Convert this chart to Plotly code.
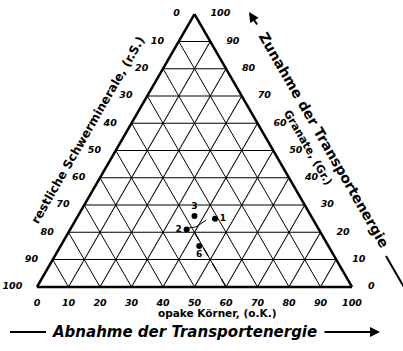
import plotly.graph_objects as go

# tick values every 10 % along each side
ticks = list(range(0, 101, 10))
tick_text = [str(t) for t in ticks]

# numbered samples (Gr. + r.S. + o.K. = 100)
proben = ["1", "2", "3", "6"]
granate = [25, 21, 26, 15]        # Granate (Gr.)
schwer = [31, 42, 37, 41]         # restliche Schwerminerale (r.S.)
opake = [44, 37, 37, 44]          # opake Körner (o.K.)
pos = ["middle right", "middle left", "top center", "bottom center"]

# small arrows from the common start point towards samples 2 and 1
pfeil_gr = [22, 21.6, None, 22, 24.5]
pfeil_rs = [38.5, 41.2, None, 38.5, 34]
pfeil_ok = [39.5, 37.2, None, 39.5, 41.5]

# dashed trend towards zero garnet
trend_gr = [20, 0]
trend_rs = [40, 40]
trend_ok = [40, 60]

W, H = 403, 351
L, R, T, B = 37, 51, 14, 64


def px(x, y):
    # reference pixel -> paper coords
    return (x - L) / (W - L - R), (H - B - y) / (H - T - B)


fig = go.Figure()

fig.add_trace(go.Scatterternary(
    a=trend_gr, b=trend_rs, c=trend_ok, mode="lines",
    line=dict(color="black", width=1.2, dash="dash"),
    hoverinfo="skip"))

fig.add_trace(go.Scatterternary(
    a=pfeil_gr, b=pfeil_rs, c=pfeil_ok, mode="lines",
    line=dict(color="black", width=1),
    hoverinfo="skip"))

fig.add_trace(go.Scatterternary(
    a=granate, b=schwer, c=opake, text=proben, mode="markers+text",
    textposition=pos,
    textfont=dict(family="DejaVu Sans", size=9, color="black", weight="bold"),
    marker=dict(color="black", size=6)))

# tick labels, placed like in the original diagram
tick_font = dict(family="DejaVu Sans", size=9.5, color="black",
                 style="italic", weight="bold")
hidden = dict(color="rgba(0,0,0,0)")
# left side: restliche Schwerminerale
fig.add_trace(go.Scatterternary(
    a=[100 - t for t in ticks], b=ticks, c=[0] * len(ticks), text=tick_text,
    mode="markers+text", textposition="middle left", textfont=tick_font,
    marker=dict(hidden, size=22), cliponaxis=False, hoverinfo="skip"))
# right side: Granate
fig.add_trace(go.Scatterternary(
    a=ticks, b=[0] * len(ticks), c=[100 - t for t in ticks], text=tick_text,
    mode="markers+text", textposition="middle right", textfont=tick_font,
    marker=dict(hidden, size=24), cliponaxis=False, hoverinfo="skip"))
# bottom: opake Körner
fig.add_trace(go.Scatterternary(
    a=[0] * len(ticks), b=[100 - t for t in ticks], c=ticks, text=tick_text,
    mode="markers+text", textposition="bottom center", textfont=tick_font,
    marker=dict(hidden, size=17), cliponaxis=False, hoverinfo="skip"))

axis_common = dict(
    tickvals=ticks, linecolor="black", linewidth=2.5,
    gridcolor="black", gridwidth=1.4, showgrid=True,
    ticks="", showticklabels=False, showline=True,
    title=dict(text=""))

fig.update_layout(
    width=W, height=H,
    margin=dict(l=L, r=R, t=T, b=B),
    paper_bgcolor="white",
    showlegend=False,
    ternary=dict(
        sum=100,
        bgcolor="white",
        aaxis=axis_common,
        baxis=axis_common,
        caxis=axis_common,
    ),
)

bold = dict(family="DejaVu Sans", color="black", weight="bold")
ann = []

x, y = px(88, 130)
ann.append(dict(x=x, y=y, text="restliche Schwerminerale, (r.S.)", textangle=-60,
                font=dict(bold, size=12)))
x, y = px(308, 147)
ann.append(dict(x=x, y=y, text="Granate, (Gr.)", textangle=60,
                font=dict(bold, size=11)))
x, y = px(324, 140)
ann.append(dict(x=x, y=y, text="Zunahme der Transportenergie", textangle=60,
                font=dict(bold, size=14)))
x, y = px(217, 313)
ann.append(dict(x=x, y=y, text="opake Körner, (o.K.)",
                font=dict(bold, size=10.5)))
x, y = px(184, 332)
ann.append(dict(x=x, y=y, text="Abnahme der Transportenergie",
                font=dict(bold, size=15, style="italic")))

# arrows (tail offsets in pixels)
x, y = px(380, 332)
ann.append(dict(x=x, y=y, ax=-57, ay=0, text="", showarrow=True,
                arrowhead=2, arrowwidth=2, arrowcolor="black"))
x, y = px(249, 12)
ann.append(dict(x=x, y=y, ax=9, ay=14, text="", showarrow=True,
                arrowhead=2, arrowwidth=2, arrowcolor="black"))
for a in ann:
    a.setdefault("showarrow", False)
    a.update(xref="paper", yref="paper", xanchor="center", yanchor="middle")
fig.update_layout(annotations=ann)

x0, y0 = px(10, 332)
x1, y1 = px(46, 332)
fig.add_shape(type="line", xref="paper", yref="paper", x0=x0, y0=y0, x1=x1, y1=y1,
              line=dict(color="black", width=2))
x0, y0 = px(386, 256)
x1, y1 = px(412, 301)
fig.add_shape(type="line", xref="paper", yref="paper", x0=x0, y0=y0, x1=x1, y1=y1,
              line=dict(color="black", width=2))

# the page keeps no body margin, so the figure fills the window exactly
fig.write_html("out.html", config={"displayModeBar": False},
               post_script="document.body.style.margin='0px';")
